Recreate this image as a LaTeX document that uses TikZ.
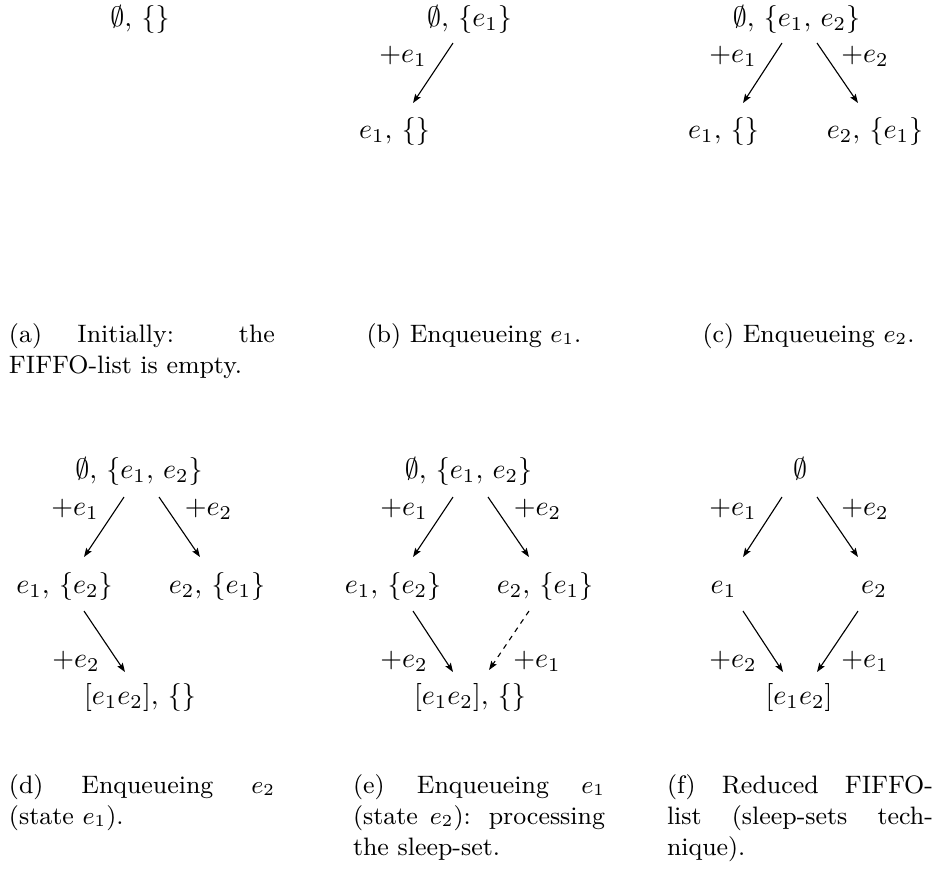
\documentclass[tikz,border=0pt]{standalone}
\usetikzlibrary{arrows.meta}
\begin{document}
\begin{tikzpicture}[x=0.357143pt,y=-0.357143pt,
  st/.style={inner sep=0pt,outer sep=0pt,anchor=base},
  lab/.style={inner sep=0pt,outer sep=0pt,anchor=base},
  arr/.style={-{Stealth[length=3.2pt,width=2.3pt,inset=0.6pt]},line width=0.4pt},
  dsh/.style={arr,dash pattern=on 1.8pt off 1.8pt},
  captxt/.style={inner sep=0pt,outer sep=0pt,anchor=base west,font=\small},
  captxtc/.style={inner sep=0pt,outer sep=0pt,anchor=base,font=\small}]
\useasboundingbox (0,0) rectangle (936,868);

% (a)
\node[st] (a0) at (140,26) {$\emptyset,\,\{\}$};

% (b)
\node[st] (b0) at (469.5,26) {$\emptyset,\,\{e_1\}$};
\node[st] (b1) at (394.5,138) {$e_1,\,\{\}$};
\node[lab] (bl1) at (403,62) {$+e_1$};
\draw[arr] ([shift={(-16.5,17)}]b0.base) -- ([shift={(18.5,-35)}]b1.base);

% (c)
\node[st] (c0) at (796.5,26) {$\emptyset,\,\{e_1,\,e_2\}$};
\node[st] (c1) at (723.5,138) {$e_1,\,\{\}$};
\node[st] (c2) at (875,138) {$e_2,\,\{e_1\}$};
\node[lab] (cl1) at (733,62) {$+e_1$};
\node[lab] (cl2) at (865,62) {$+e_2$};
\draw[arr] ([shift={(-14.5,17)}]c0.base) -- ([shift={(19.5,-35)}]c1.base);
\draw[arr] ([shift={(20.5,17)}]c0.base) -- ([shift={(-17,-35)}]c2.base);

% (d)
\node[st] (d0) at (139,478.5) {$\emptyset,\,\{e_1,\,e_2\}$};
\node[st] (d1) at (64.5,593) {$e_1,\,\{e_2\}$};
\node[st] (d2) at (217,593) {$e_2,\,\{e_1\}$};
\node[st] (d3) at (140,704) {$[e_1e_2],\,\{\}$};
\node[lab] (dl1) at (75,515) {$+e_1$};
\node[lab] (dl2) at (208.5,515) {$+e_2$};
\node[lab] (dl3) at (76,667) {$+e_2$};
\draw[arr] ([shift={(-15,18.5)}]d0.base) -- ([shift={(19.5,-36)}]d1.base);
\draw[arr] ([shift={(20,18.5)}]d0.base) -- ([shift={(-17,-36)}]d2.base);
\draw[arr] ([shift={(19.5,18)}]d1.base) -- ([shift={(-15,-32)}]d3.base);

% (e)
\node[st] (e0) at (468.5,478.5) {$\emptyset,\,\{e_1,\,e_2\}$};
\node[st] (e1) at (393,593) {$e_1,\,\{e_2\}$};
\node[st] (e2) at (545,593) {$e_2,\,\{e_1\}$};
\node[st] (e3) at (470,704) {$[e_1e_2],\,\{\}$};
\node[lab] (el1) at (404,515) {$+e_1$};
\node[lab] (el2) at (537.5,515) {$+e_2$};
\node[lab] (el3) at (404,667) {$+e_2$};
\node[lab] (el4) at (537,667) {$+e_1$};
\draw[arr] ([shift={(-15.5,18.5)}]e0.base) -- ([shift={(20,-36)}]e1.base);
\draw[arr] ([shift={(19.5,18.5)}]e0.base) -- ([shift={(-16,-36)}]e2.base);
\draw[arr] ([shift={(20,18)}]e1.base) -- ([shift={(-17,-32)}]e3.base);
\draw[dsh] ([shift={(-16,18)}]e2.base) -- ([shift={(19,-34)}]e3.base);

% (f)
\node[st] (f0) at (800,478.5) {$\emptyset$};
\node[st] (f1) at (723.5,593) {$e_1$};
\node[st] (f2) at (874,593) {$e_2$};
\node[st] (f3) at (799,704) {$[e_1e_2]$};
\node[lab] (fl1) at (733,515) {$+e_1$};
\node[lab] (fl2) at (865,515) {$+e_2$};
\node[lab] (fl3) at (733,667) {$+e_2$};
\node[lab] (fl4) at (865,667) {$+e_1$};
\draw[arr] ([shift={(-18,18.5)}]f0.base) -- ([shift={(19.5,-36)}]f1.base);
\draw[arr] ([shift={(17,18.5)}]f0.base) -- ([shift={(-16,-36)}]f2.base);
\draw[arr] ([shift={(19.5,18)}]f1.base) -- ([shift={(-16,-32)}]f3.base);
\draw[arr] ([shift={(-16,18)}]f2.base) -- ([shift={(18,-32)}]f3.base);

% captions row 1
\node[captxt] (capa1) at (9,342) {\makebox[95pt][s]{(a) Initially: the}};
\node[captxt] (capa2) at (9,373) {FIFFO-list is empty.};
\node[captxtc] (capb) at (474,342) {(b) Enqueueing $e_1$.};
\node[captxtc] (capc) at (808.5,342) {(c) Enqueueing $e_2$.};

% captions row 2
\node[captxt] (capd1) at (9,793) {\makebox[95pt][s]{(d) Enqueueing $e_2$}};
\node[captxt] (capd2) at (9,824) {(state $e_1$).};
\node[captxt] (cape1) at (353,793) {\makebox[90pt][s]{(e) Enqueueing $e_1$}};
\node[captxt] (cape2) at (353,824) {\makebox[90pt][s]{(state $e_2$): processing}};
\node[captxt] (cape3) at (353,855) {the sleep-set.};
\node[captxt] (capf1) at (667,793) {\makebox[95pt][s]{(f) Reduced FIFFO-}};
\node[captxt] (capf2) at (667,824) {\makebox[95pt][s]{list (sleep-sets tech-}};
\node[captxt] (capf3) at (667,855) {nique).};
\end{tikzpicture}
\end{document}
